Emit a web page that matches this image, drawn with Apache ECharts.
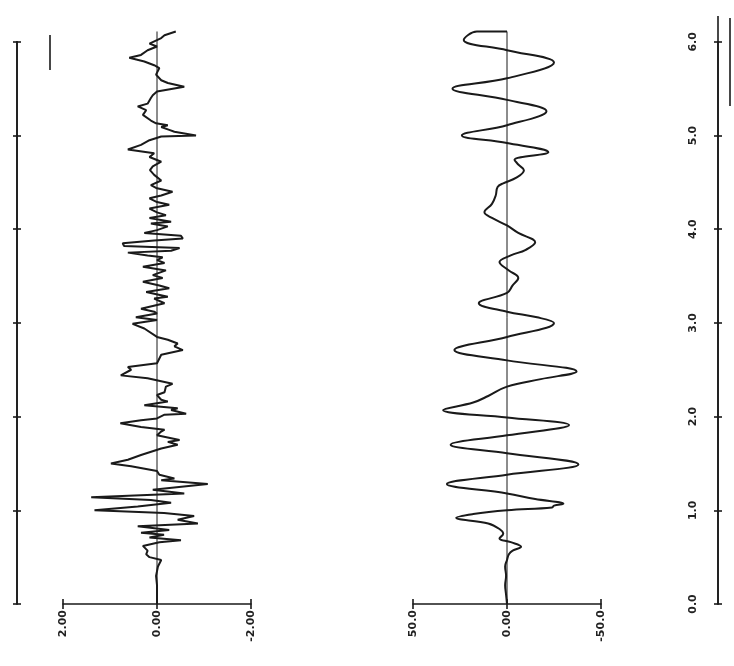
<!DOCTYPE html>
<html><head><meta charset="utf-8">
<script src="https://cdn.jsdelivr.net/npm/echarts@6/dist/echarts.min.js"></script>
<style>html,body{margin:0;padding:0;background:#fff}#c{width:734px;height:666px}</style>
</head><body><div id="c"></div>
<script>
// Left panel: acceleration-like trace (value vs time)
const accTime = [0,0.20,0.30,0.40,0.47,0.50,0.53,0.57,0.62,0.66,0.68,0.71,0.74,0.76,0.79,0.83,0.86,0.90,0.94,0.97,1.00,1.04,1.08,1.11,1.14,1.18,1.22,1.28,1.32,1.34,1.38,1.42,1.47,1.50,1.54,1.59,1.66,1.70,1.73,1.75,1.80,1.84,1.86,1.89,1.93,1.96,1.98,2.02,2.03,2.07,2.09,2.12,2.16,2.18,2.23,2.26,2.32,2.35,2.41,2.44,2.50,2.53,2.57,2.66,2.71,2.75,2.78,2.82,2.85,2.94,2.99,3.03,3.06,3.10,3.12,3.15,3.21,3.26,3.28,3.33,3.37,3.40,3.44,3.48,3.51,3.56,3.60,3.64,3.67,3.70,3.72,3.75,3.77,3.80,3.82,3.85,3.88,3.90,3.93,3.96,3.99,4.03,4.06,4.08,4.12,4.15,4.18,4.22,4.26,4.29,4.33,4.36,4.40,4.44,4.47,4.52,4.58,4.63,4.67,4.72,4.77,4.81,4.85,4.90,4.95,4.99,5.00,5.04,5.06,5.09,5.11,5.13,5.16,5.22,5.27,5.31,5.34,5.40,5.43,5.47,5.52,5.56,5.59,5.65,5.72,5.75,5.79,5.83,5.86,5.91,5.95,5.98,6.04,6.07,6.11];
const accValue = [0,0.0,0.02,-0.02,-0.09,0.16,0.23,0.20,0.30,-0.05,-0.51,0.16,-0.15,0.34,-0.26,0.41,-0.87,-0.44,-0.79,-0.15,1.33,0.41,-0.30,0.13,1.40,-0.58,0.09,-1.08,-0.09,-0.37,-0.05,0.0,0.55,0.98,0.62,0.34,-0.09,-0.44,-0.23,-0.48,0,-0.09,-0.16,0.34,0.78,0.34,0,-0.16,-0.62,-0.30,-0.44,0.27,-0.23,-0.09,0,-0.16,-0.19,-0.33,0.20,0.77,0.55,0.62,0,-0.09,-0.55,-0.37,-0.44,-0.23,0,0.27,0.52,0,0.45,0,0.06,0.34,-0.16,0.06,-0.23,0.23,-0.26,-0.05,0.30,-0.12,0.09,-0.19,0.30,-0.16,0,-0.12,0.20,0.62,-0.30,-0.48,0.70,0.73,0.06,-0.55,-0.51,0.27,0,-0.23,0.13,-0.30,0.16,-0.19,0,0.16,-0.26,0,0.16,-0.09,-0.33,0.02,0.13,-0.09,0.06,0.15,0.09,-0.09,0.16,0.06,0.62,0.34,0.16,-0.09,-0.83,-0.37,-0.26,-0.09,-0.23,0.02,0.13,0.30,0.23,0.41,0.20,0.13,0.09,0,-0.58,-0.23,-0.09,0.02,-0.05,0.06,0.27,0.59,0.34,0.20,0,0.16,-0.09,-0.16,-0.40];

// Right panel: displacement-like trace
const dispTime = [0,0.10,0.20,0.30,0.40,0.47,0.53,0.57,0.61,0.66,0.70,0.75,0.80,0.86,0.92,0.96,1.00,1.03,1.05,1.07,1.12,1.18,1.28,1.38,1.49,1.61,1.70,1.80,1.91,1.99,2.07,2.15,2.22,2.32,2.40,2.48,2.60,2.71,2.85,3.00,3.06,3.12,3.21,3.32,3.40,3.48,3.56,3.65,3.72,3.78,3.86,3.96,4.04,4.12,4.18,4.27,4.36,4.45,4.49,4.55,4.63,4.69,4.74,4.82,4.92,5.00,5.11,5.26,5.38,5.50,5.61,5.78,5.91,6.02,6.11,6.11];
const dispValue = [0,0.5,1,0.5,1,0,-1,-3,-7.5,-2,4,2,4,10,27,18,0,-24,-25,-30,-15,0,32,0,-38,0,30,0,-33,0,34,18,10,0,-18,-37,0,28,0,-25,-16,0,15,0,-3,-6,-1,4,-2,-10,-15,-6,0,8,12,8,6,5,2,-5,-9,-6,-4,-22,0,24,0,-21,0,29,0,-25,0,23,16,0];

// Axis ticks
const accTicks = [-2, 0, 2];
const dispTicks = [-50, 0, 50];
const timeTicks = [0, 1, 2, 3, 4, 5, 6];
const zeroTime = [0, 6.11];

const accLabels = {'2':'2.00','0':'0.00','-2':'-2.00'};
const dispLabels = {'50':'50.0','0':'0.00','-50':'-50.0'};

const font = {fontFamily:'DejaVu Sans', fontSize:11, fontWeight:'bold', color:'#222'};
const ink = '#1a1a1a';

function valueAxis(grid, min, max, interval, labels, inside){
  return {type:'value', gridIndex:grid, min:min, max:max, interval:interval, inverse:true, position:'bottom',
    axisLine:{show:!inside, onZero:false, lineStyle:{color:ink, width:1.6}},
    axisTick:{show:true, inside:inside, length:5, lineStyle:{color:ink, width:1.6}},
    splitLine:{show:false},
    axisLabel: inside ? {show:false} : Object.assign({rotate:90, margin:6, formatter:v=>labels[String(v)]||''}, font)};
}
function timeAxis(grid, pos, offset, inside, showLabel){
  return {type:'value', gridIndex:grid, min:0, max:6, interval:1, position:pos, offset:offset,
    axisLine:{show:true, onZero:false, lineStyle:{color:ink, width:1.6}},
    axisTick:{show:true, inside:inside, length:4, lineStyle:{color:ink, width:1.6}},
    splitLine:{show:false},
    axisLabel: showLabel ? Object.assign({show:true, inside:true, rotate:90, margin:19, align:'center', verticalAlign:'bottom', formatter:v=>timeTicks.includes(v)?v.toFixed(1):''}, font) : {show:false}};
}

const chart = echarts.init(document.getElementById('c'), null, {renderer:'canvas'});
chart.setOption({
  backgroundColor:'#fff',
  animation:false,
  grid:[
    {left:63, right:734-251, top:604-6*93.7, bottom:62},
    {left:413, right:734-601, top:604-6*93.7, bottom:62}
  ],
  xAxis:[
    valueAxis(0,-2,2,2,accLabels,false), valueAxis(1,-50,50,50,dispLabels,false),
    valueAxis(0,-2,2,2,accLabels,true), valueAxis(1,-50,50,50,dispLabels,true)
  ],
  yAxis:[
    {type:'value', gridIndex:0, min:0, max:6, show:false},
    timeAxis(0,'left',46,false,false),
    timeAxis(0,'left',46,true,false),
    {type:'value', gridIndex:1, min:0, max:6, show:false},
    timeAxis(1,'right',117,false,false),
    timeAxis(1,'right',117,true,true)
  ],
  series:[
    {type:'line', xAxisIndex:0, yAxisIndex:0, clip:false, symbol:'none', silent:true,
      data:zeroTime.map(t=>[0,t]), lineStyle:{color:ink, width:1}},
    {type:'line', xAxisIndex:1, yAxisIndex:3, clip:false, symbol:'none', silent:true,
      data:zeroTime.map(t=>[0,t]), lineStyle:{color:ink, width:1}},
    {type:'line', xAxisIndex:0, yAxisIndex:0, clip:false, symbol:'none', smooth:false,
      data:accTime.map((t,i)=>[accValue[i], t]), lineStyle:{color:ink, width:2}},
    {type:'line', xAxisIndex:1, yAxisIndex:3, clip:false, symbol:'none', smooth:0.4,
      data:dispTime.map((t,i)=>[dispValue[i], t]), lineStyle:{color:ink, width:2}}
  ],
  graphic:[
    {type:'line', shape:{x1:50, y1:35, x2:50, y2:70}, style:{stroke:ink, lineWidth:1.6}},
    {type:'line', shape:{x1:730, y1:18, x2:730, y2:106}, style:{stroke:ink, lineWidth:1.6}},
    {type:'line', shape:{x1:718, y1:16, x2:718, y2:42}, style:{stroke:ink, lineWidth:1.6}}
  ]
});
</script></body></html>
